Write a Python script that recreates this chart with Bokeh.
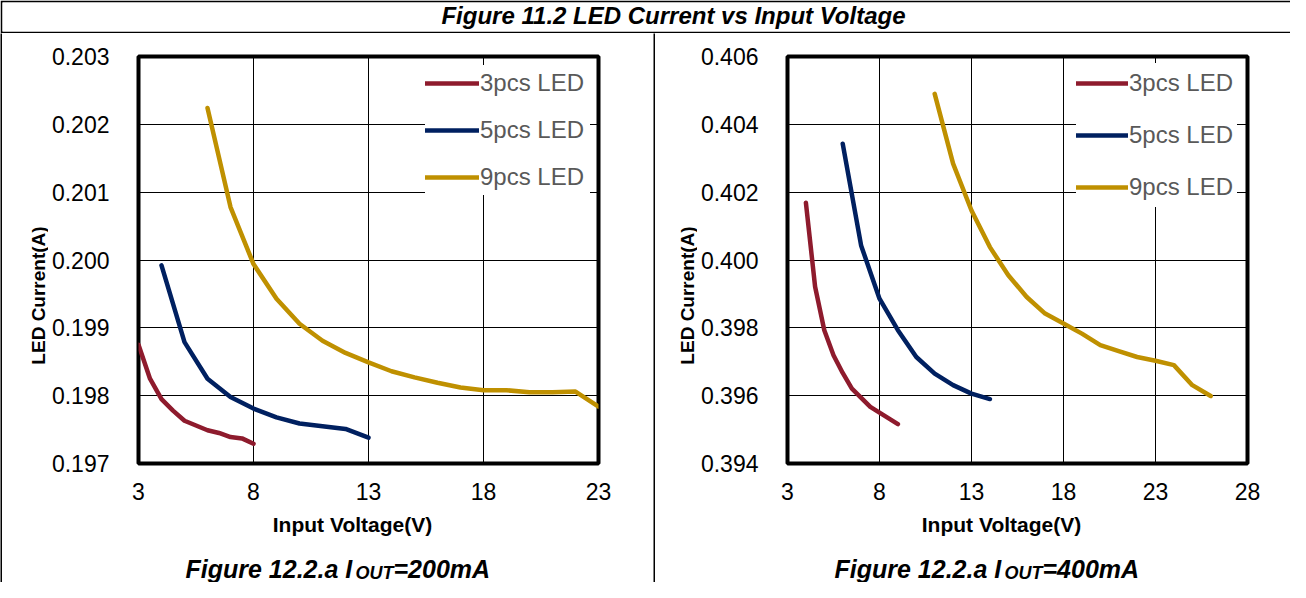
import math
from bokeh.plotting import figure
from bokeh.models import (Label, Legend, LegendItem, FixedTicker,
                          NumeralTickFormatter, Range1d)
from bokeh.layouts import column, row
from bokeh.embed import file_html
from bokeh.resources import INLINE

FONT = "Liberation Sans"

# ---------------- data ----------------
series_names = ["3pcs LED", "5pcs LED", "9pcs LED"]
series_colors = ["#8E1B2D", "#002060", "#BF9000"]

# I_OUT = 200 mA
v3_200 = [3, 3.5, 4, 4.5, 5, 5.5, 6, 6.5, 7, 7.5, 8]
i3_200 = [0.19875, 0.19825, 0.19795, 0.19778, 0.19763, 0.19756, 0.19749,
          0.19745, 0.19739, 0.19737, 0.19729]
v5_200 = [4, 5, 6, 7, 8, 9, 10, 11, 12, 13]
i5_200 = [0.19992, 0.19879, 0.19825, 0.19798, 0.19781, 0.19768, 0.19759,
          0.19755, 0.19751, 0.19738]
v9_200 = [6, 7, 8, 9, 10, 11, 12, 13, 14, 15, 16, 17, 18, 19, 20, 21, 22, 23]
i9_200 = [0.20224, 0.20078, 0.19994, 0.19943, 0.19906, 0.19881, 0.19863,
          0.19849, 0.19836, 0.19827, 0.19819, 0.19812, 0.19808, 0.19808,
          0.19805, 0.19805, 0.19806, 0.19784]

# I_OUT = 400 mA
v3_400 = [4, 4.5, 5, 5.5, 6, 6.5, 7.5, 9]
i3_400 = [0.40169, 0.39921, 0.39793, 0.39719, 0.39667, 0.39621, 0.39567,
          0.39516]
v5_400 = [6, 7, 8, 9, 10, 11, 12, 13, 14]
i5_400 = [0.40343, 0.40043, 0.39886, 0.39793, 0.39714, 0.39665, 0.39631,
          0.39606, 0.39590]
v9_400 = [11, 12, 13, 14, 15, 16, 17, 18, 19, 20, 21, 22, 23, 24, 25, 26]
i9_400 = [0.40490, 0.40284, 0.40146, 0.40038, 0.39955, 0.39891, 0.39842,
          0.39813, 0.39783, 0.39749, 0.39731, 0.39714, 0.39703, 0.39690,
          0.39631, 0.39599]

x_ticks_200 = [3, 8, 13, 18, 23]
y_ticks_200 = [0.197, 0.198, 0.199, 0.200, 0.201, 0.202, 0.203]
x_ticks_400 = [3, 8, 13, 18, 23, 28]
y_ticks_400 = [0.394, 0.396, 0.398, 0.400, 0.402, 0.404, 0.406]

title_text = "Figure 11.2 LED Current vs Input Voltage"
x_label = "Input Voltage(V)"
y_label = "LED Current(A)"
cap_main = "Figure 12.2.a I"
cap_sub = "OUT"
cap_tail_200 = "=200mA"
cap_tail_400 = "=400mA"


def blank(width, height, left_border=0, top_border=0, bottom_border=0,
          fill="white", border="white"):
    f = figure(width=width, height=height, toolbar_location=None,
               output_backend="svg", x_range=Range1d(0, 1),
               y_range=Range1d(0, 1), x_axis_type=None, y_axis_type=None,
               min_border=0, min_border_left=left_border,
               min_border_top=top_border, min_border_bottom=bottom_border,
               outline_line_color=None, background_fill_color=fill,
               border_fill_color=border)
    f.grid.visible = False
    return f


def txt(f, x, y, text, size, style, align="left", angle=0.0, color="black"):
    f.add_layout(Label(x=x, y=y, x_units="screen", y_units="screen",
                       text=text, angle=angle, text_align=align,
                       text_baseline="middle", text_font=FONT,
                       text_font_size=size, text_font_style=style,
                       text_color=color))


def plot_fig(width, b_right, xs, ys, xt, yt, leg_loc, leg_glyph_h,
             leg_spacing, leg_glyph_w, leg_label_w):
    p = figure(width=width, height=475,
               x_range=Range1d(xt[0], xt[-1]), y_range=Range1d(yt[0], yt[-1]),
               toolbar_location=None, output_backend="svg",
               min_border_left=89, min_border_right=b_right,
               min_border_top=23, min_border_bottom=45,
               outline_line_color="black", outline_line_width=4,
               background_fill_color="white", border_fill_color="white")
    p.xaxis.ticker = FixedTicker(ticks=xt)
    p.yaxis.ticker = FixedTicker(ticks=yt)
    p.yaxis.formatter = NumeralTickFormatter(format="0.000")
    for ax in (p.xaxis, p.yaxis):
        ax.axis_line_color = None
        ax.major_tick_line_color = None
        ax.minor_tick_line_color = None
        ax.major_tick_out = 0
        ax.major_tick_in = 0
        ax.major_label_text_font = FONT
        ax.major_label_text_font_size = "23px"
        ax.major_label_text_color = "black"
    p.yaxis.major_label_standoff = 29
    p.xaxis.major_label_standoff = 19
    p.xgrid.ticker = FixedTicker(ticks=xt)
    p.ygrid.ticker = FixedTicker(ticks=yt)
    p.grid.grid_line_color = "black"
    p.grid.grid_line_width = 1
    p.grid.grid_line_alpha = 1

    items = []
    for name, col, x, y in zip(series_names, series_colors, xs, ys):
        r = p.line(x, y, line_color=col, line_width=4.5, line_cap="round",
                   line_join="round")
        items.append(LegendItem(label=name, renderers=[r]))

    leg = Legend(items=items, location=leg_loc, orientation="vertical",
                 glyph_width=leg_glyph_w, glyph_height=leg_glyph_h,
                 label_height=leg_glyph_h, label_width=leg_label_w,
                 label_standoff=1, spacing=leg_spacing, padding=8, margin=0,
                 border_line_color=None, background_fill_color="white",
                 background_fill_alpha=1.0, label_text_font=FONT,
                 label_text_font_size="24px", label_text_color="#595959")
    p.add_layout(leg)
    return p


def panel(plot_w, ylab_w, ylab_x, b_right, xs, ys, xt, yt,
          leg_loc, leg_glyph_h, leg_spacing, leg_glyph_w, leg_label_w,
          cap_x, xlab_x, cap_tail):
    ylab = blank(ylab_w, 475)
    txt(ylab, ylab_x, 168, y_label, "19px", "bold", align="center",
        angle=math.pi / 2)
    p = plot_fig(plot_w, b_right, xs, ys, xt, yt, leg_loc,
                 leg_glyph_h, leg_spacing, leg_glyph_w, leg_label_w)
    bottom = blank(ylab_w + plot_w, 74)
    txt(bottom, xlab_x, 58, x_label, "21px", "bold", align="center")
    txt(bottom, cap_x, 14, cap_main, "25px", "bold italic")
    txt(bottom, cap_x + 170, 10, cap_sub, "18px", "bold italic")
    txt(bottom, cap_x + 208, 14, cap_tail, "25px", "bold italic")
    return column(row(ylab, p, spacing=0), bottom, spacing=0)


left_panel = panel(605, 46, 36, 55, [v3_200, v5_200, v9_200],
                   [i3_200, i5_200, i9_200], x_ticks_200, y_ticks_200,
                   (287, 268), 36, 11, 54, 110, 183, 350, cap_tail_200)
right_panel = panel(593, 42, 32, 43, [v3_400, v5_400, v9_400],
                    [i3_400, i5_400, i9_400], x_ticks_400, y_ticks_400,
                    (289, 256), 40, 12, 52, 108, 179, 346, cap_tail_400)

left_line = blank(2, 549, fill="black", border="black")
divider = blank(2, 549, fill="black", border="black")

title_fig = blank(1290, 33, left_border=2, top_border=2, bottom_border=2,
                  fill="white", border="black")
txt(title_fig, 671, 16, title_text, "24px", "bold italic", align="center")

layout = column(title_fig,
                row(left_line, left_panel, divider, right_panel, spacing=0),
                spacing=0)

with open("out.html", "w") as f:
    f.write(file_html(layout, INLINE))
